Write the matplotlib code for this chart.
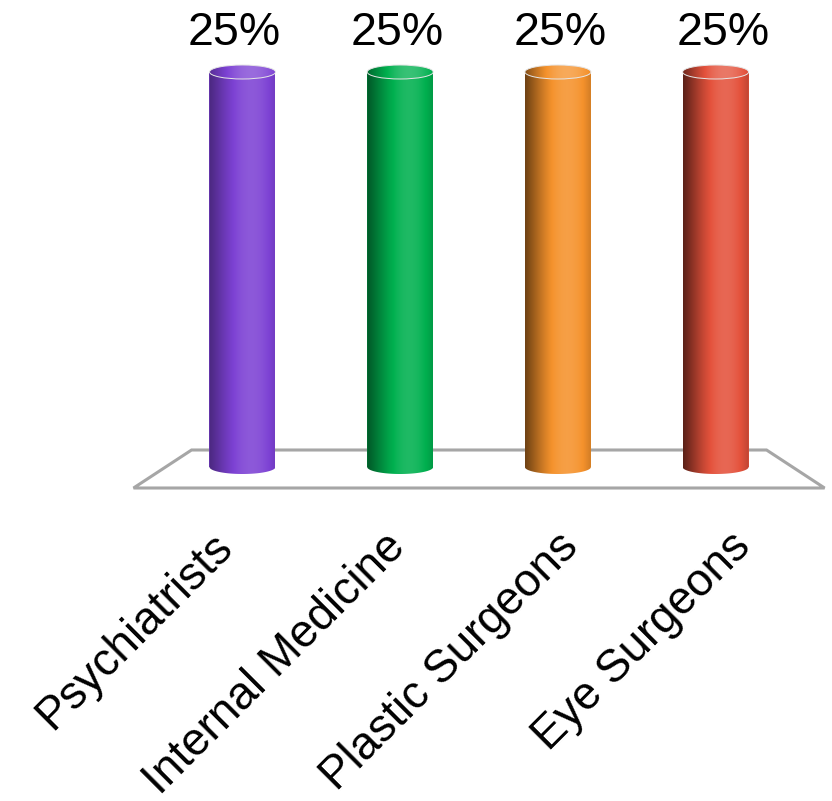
import numpy as np
import matplotlib.pyplot as plt
from matplotlib.patches import Polygon, Ellipse
from matplotlib.colors import to_rgb

categories = ['Psychiatrists', 'Internal Medicine', 'Plastic Surgeons', 'Eye Surgeons']
values = [25, 25, 25, 25]
value_labels = ['25%', '25%', '25%', '25%']
colors = ['#7d42d4', '#00b04f', '#f5922c', '#e4523c']
edge_dark = [0.6, 0.5, 0.45, 0.4]   # how dark the left side of each cylinder gets

plt.rcParams['font.family'] = ['Liberation Sans', 'DejaVu Sans']

W, H = 832, 801
fig = plt.figure(figsize=(W / 100, H / 100), dpi=100)
ax = fig.add_axes([0, 0, 1, 1])
ax.set_axis_off()

# layout in pixels: category 0 at x=242.5, 157.7 px per category,
# value 0 at y=467 px, value 25 at y=72 px (from top)
px_x0, px_dx = 242.5, 157.7
px_y0 = 467
px_dy = (467 - 72) / 25
xlim = (-px_x0 / px_dx, (W - px_x0) / px_dx)
ylim = (-(H - px_y0) / px_dy, px_y0 / px_dy)

n = len(categories)
mid = (n - 1) / 2
bw = 66 / px_dx          # bar width in data units
eb = 7 / px_dy           # ellipse half height in data units


def shade(base, u, low, boost=0.0):
    # cylinder lighting: dark left edge, highlight a bit right of centre
    th = (u - 0.5) * np.pi
    c = np.cos(th - 0.45)
    c0 = np.cos(-np.pi / 2 - 0.45)
    f = low + (1.12 - low) * (c - c0) / (1 - c0) + boost
    base = np.array(to_rgb(base))
    f = f[:, None]
    out = np.where(f <= 1, base[None, :] * f, base[None, :] + (1 - base[None, :]) * (f - 1))
    return np.clip(out, 0, 1)


# floor (perspective parallelogram)
back_k, front_k = 0.9115, 1.0955
back_y, front_y = (467 - 450) / px_dy, (467 - 488) / px_dy
floor = Polygon([(mid - n / 2 * back_k, back_y), (mid + n / 2 * back_k, back_y),
                 (mid + n / 2 * front_k, front_y), (mid - n / 2 * front_k, front_y)],
                closed=True, facecolor='white', edgecolor='#a6a6a6', lw=2.2, zorder=1)
ax.add_patch(floor)

u = np.linspace(0, 1, 200)
t = np.linspace(np.pi, 2 * np.pi, 80)
for i, (v, c) in enumerate(zip(values, colors)):
    a = bw / 2
    ax.bar(i, v, width=bw, color=c, zorder=2)
    # cylinder body with rounded bottom
    pts = [(i - a, v), (i - a, 0)] + list(zip(i + a * np.cos(t), eb * np.sin(t))) + [(i + a, v)]
    body = Polygon(pts, closed=True, facecolor='none', edgecolor='none')
    ax.add_patch(body)
    img = np.tile(shade(c, u, edge_dark[i])[None, :, :], (2, 1, 1))
    im = ax.imshow(img, extent=[i - a, i + a, -eb, v], aspect='auto', zorder=3,
                   interpolation='bilinear')
    im.set_clip_path(body)
    # top cap
    cap = Ellipse((i, v), 2 * a, 2 * eb, facecolor='none', edgecolor='none')
    ax.add_patch(cap)
    img2 = np.tile(shade(c, u, edge_dark[i], boost=0.1)[None, :, :], (2, 1, 1))
    im2 = ax.imshow(img2, extent=[i - a, i + a, v - eb, v + eb], aspect='auto', zorder=4,
                    interpolation='bilinear')
    im2.set_clip_path(cap)
    rim = Ellipse((i, v), 2 * a, 2 * eb, facecolor='none', edgecolor='#e6e6e6', lw=0.7, zorder=5)
    ax.add_patch(rim)

    ax.text(mid + (i - mid) * 1.034, (467 - 45) / px_dy, value_labels[i],
            ha='center', va='baseline', fontsize=33.5, color='black')

    ax.text(mid + (i - mid) * front_k + 6 / px_dx, (467 - 540) / px_dy, categories[i],
            rotation=45, rotation_mode='anchor', ha='right', va='center',
            fontsize=33, color='black')

ax.set_xlim(*xlim)
ax.set_ylim(*ylim)
ax.set_aspect('auto')

fig.savefig('out.png', dpi=100)
